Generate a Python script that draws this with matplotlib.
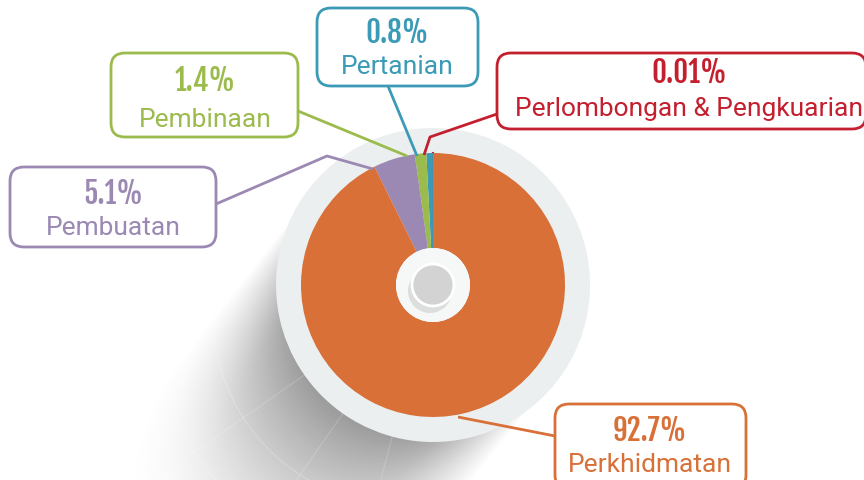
import numpy as np
import matplotlib.pyplot as plt
from matplotlib.patches import Circle, FancyBboxPatch

# sector shares (%) in drawing order, counter-clockwise from 12 o'clock
sectors = ['Perlombongan & Pengkuarian', 'Pertanian', 'Pembinaan', 'Pembuatan', 'Perkhidmatan']
shares = [0.01, 0.8, 1.4, 5.1, 92.7]
share_labels = ['0.01%', '0.8%', '1.4%', '5.1%', '92.7%']
colors = ['#c41f2f', '#3b9ab6', '#9bbb4c', '#9b89b3', '#d87038']

W, H = 864, 481
fig = plt.figure(figsize=(W / 100, H / 100), dpi=100)
ax = fig.add_axes([0, 0, 1, 1])

def Y(y):
    # image row -> data y
    return H - y

cx, cy = 433, Y(286)

# cast shadow toward lower-left
xx, yy = np.meshgrid(np.arange(W) + 0.5, np.arange(H) + 0.5)
yy = H - yy
alpha = np.zeros_like(xx)
L = 270.0
for t in np.linspace(0, L, 70):
    ox, oy = cx - t * 0.62, cy - t * 0.78
    d = np.hypot(xx - ox, yy - oy)
    inside = np.clip((152 - d) / 45, 0, 1)
    alpha = np.maximum(alpha, inside * (1 - t / L) ** 1.5)
shadow = np.zeros((H, W, 4))
shadow[..., :3] = 0.33
shadow[..., 3] = alpha * 0.8
ax.imshow(shadow[::-1], extent=(0, W, 0, H), origin='lower', zorder=0, interpolation='bilinear')

# faint globe lines across the shadow
th = np.linspace(0, 2 * np.pi, 300)
for r in [190, 250]:
    ax.plot(cx + r * np.cos(th) - 30, cy + r * np.sin(th) - 30, color='white', lw=0.7, alpha=0.25, zorder=1)
for ang in np.radians([215, 235, 255]):
    ax.plot([cx, cx + 500 * np.cos(ang)], [cy, cy + 500 * np.sin(ang)], color='white', lw=0.7, alpha=0.2, zorder=1)

# outer light ring
ax.add_patch(Circle((cx, cy), 157, facecolor='#eceff0', edgecolor='none', zorder=2))

wedges, _ = ax.pie(shares, colors=colors, startangle=90, counterclock=True,
                   center=(cx, cy), radius=132, frame=True,
                   wedgeprops=dict(width=95, linewidth=0))
for w in wedges:
    w.set_zorder(3)
wedges[0].set_edgecolor(colors[0])
wedges[0].set_linewidth(1.5)
ax.set_xlim(0, W)
ax.set_ylim(0, H)
ax.set_aspect('auto')
ax.axis('off')

# center hole and knob
ax.add_patch(Circle((cx, cy), 37, facecolor='#f6f7f7', edgecolor='none', zorder=4))
ax.add_patch(Circle((cx - 3, cy - 6), 22, facecolor='#c4c4c4', edgecolor='none', alpha=0.5, zorder=4))
ax.add_patch(Circle((cx, cy), 21, facecolor='#d3d3d3', edgecolor='white', lw=2, zorder=5))

# label boxes: (x0, y0, x1, y1) in image pixels, text centre x, number / name baselines, leader
boxes = [
    (497, 54, 866, 130, 689, 83, 116, [(497, 115), (430, 138), (424, 156)]),
    (317, 9, 478, 87, 397, 43, 74, [(388, 87), (417, 157)]),
    (111, 54, 298, 138, 205, 91, 127, [(298, 112), (407, 157)]),
    (10, 168, 216, 248, 113, 204, 235, [(216, 205), (327, 157), (373, 170)]),
    (555, 405, 746, 490, 650, 441, 472, [(555, 437), (458, 418)]),
]
for (x0, y0, x1, y1, xm, nb, lb, leader), name, lab, c in zip(boxes, sectors, share_labels, colors):
    px = [p[0] for p in leader]
    py = [Y(p[1]) for p in leader]
    ax.plot(px, py, color=c, lw=2, zorder=6, solid_capstyle='butt')
    ax.add_patch(FancyBboxPatch((x0, Y(y1)), x1 - x0, y1 - y0,
                                boxstyle='round,pad=0,rounding_size=14',
                                facecolor='white', edgecolor=c, lw=2, zorder=7))
    ax.text(xm, Y(nb), lab, color=c, fontsize=21, family='Fjalla One',
            ha='center', va='baseline', zorder=8)
    ax.text(xm, Y(lb), name, color=c, fontsize=19, family='Roboto',
            ha='center', va='baseline', zorder=8)

fig.savefig('out.png', dpi=100)
